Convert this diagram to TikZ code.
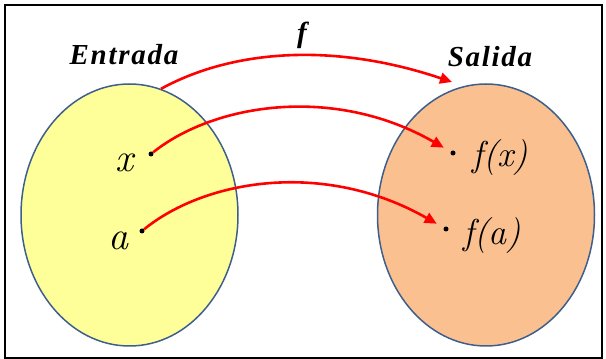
\documentclass[tikz,border=0pt]{standalone}
\usepackage{fontspec}
\newfontfamily\headfont[LetterSpace=6]{Liberation Serif}
\usepackage{tikz}
\usetikzlibrary{shapes.geometric,arrows.meta}

\definecolor{setedge}{HTML}{3E5F8C}
\definecolor{setyellow}{HTML}{FFFF99}
\definecolor{setpeach}{HTML}{FAC090}

\tikzset{
	setshape/.style={ellipse,draw=setedge,line width=1.5pt,inner sep=0pt,
		minimum width=217pt,minimum height=262pt},
	elem/.style={circle,fill=black,inner sep=0pt,minimum size=5pt},
	head/.style={font=\headfont\bfseries\itshape\fontsize{29}{32}\selectfont,inner sep=0pt,anchor=base},
	elemlabel/.style={font=\itshape\fontsize{40}{42}\selectfont,inner sep=0pt,anchor=base east},
	imglabel/.style={font=\itshape\fontsize{36}{38}\selectfont,inner sep=0pt,anchor=base west},
	maparrow/.style={red,line width=2.6pt,-{Triangle[length=12pt,width=11pt]}}
}

\begin{document}
\begin{tikzpicture}[x=1pt,y=1pt]
	\useasboundingbox (0,0) rectangle (606,359);
	\draw[line width=2pt] (4.5,1) rectangle (601.5,354);

	% the two sets
	\node[setshape,fill=setyellow] (dom) at (129.5,144) {};
	\node[setshape,fill=setpeach] (cod) at (486,144) {};
	\node[head] (domname) at (124,294) {Entrada};
	\node[head] (codname) at (490,292) {Salida};

	% elements
	\node[elem] (x) at (151,205) {};
	\node[elem] (a) at (142,128) {};
	\node[elem] (fx) at (453,206) {};
	\node[elem] (fa) at (446,130) {};
	\node[elemlabel] (xname) at (134,187) {x};
	\node[elemlabel] (aname) at (129,109) {a};
	\node[imglabel] (fxname) at (472,192) {f(x)};
	\node[imglabel] (faname) at (463,114) {f(a)};

	% the mapping
	\coordinate (topend) at (452,277);
	\draw[maparrow] (dom.76) .. controls (230,308) and (330,318) .. (topend);
	\node[head] (fname) at (302,316) {f};
	\draw[maparrow,shorten >=8pt] (x) .. controls (215,256) and (335,274) .. (fx);
	\draw[maparrow,shorten >=8pt] (a) .. controls (206,180) and (325,199) .. (fa);
\end{tikzpicture}
\end{document}
